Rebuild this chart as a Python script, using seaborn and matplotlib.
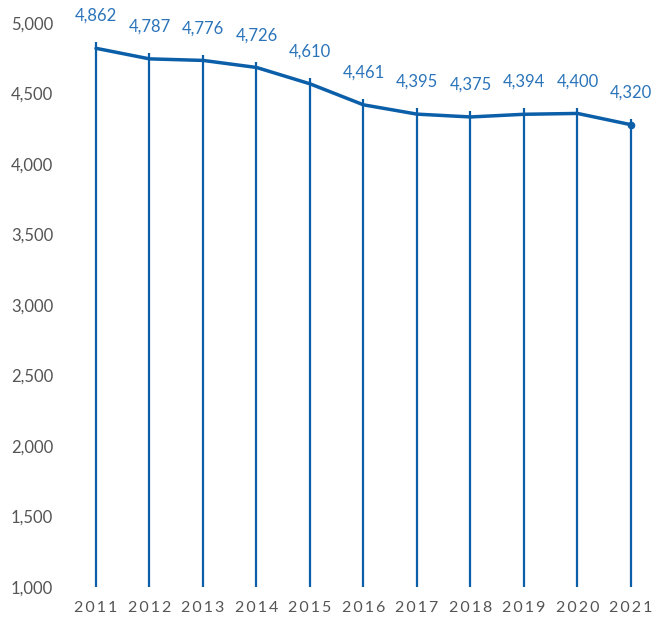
import matplotlib
matplotlib.use("Agg")
import matplotlib.pyplot as plt
import matplotlib.transforms as mtransforms
import seaborn as sns
import pandas as pd

years = [2011, 2012, 2013, 2014, 2015, 2016, 2017, 2018, 2019, 2020, 2021]
values = [4862, 4787, 4776, 4726, 4610, 4461, 4395, 4375, 4394, 4400, 4320]
y_ticks = [1000, 1500, 2000, 2500, 3000, 3500, 4000, 4500, 5000]

sns.set_theme(style="white")
plt.rcParams['font.family'] = ['Lato', 'DejaVu Sans']

line_color = "#0b5ea8"
label_color = "#2b74b9"
tick_color = "#555555"

W, H = 654, 617
fig = plt.figure(figsize=(W / 100, H / 100), dpi=100)
ax_left, ax_right = 70, 650
ax = fig.add_axes([ax_left / W, (H - 587) / H, (ax_right - ax_left) / W, (587 - 23) / H])

df = pd.DataFrame({"year": years, "value": values})

# vertical drop lines
ax.vlines(df["year"], 1000, df["value"], color=line_color, linewidth=1.6, zorder=2)

# main line, drawn slightly below the drop-line tops as in the reference
off = mtransforms.offset_copy(ax.transData, fig=fig, x=0, y=-4.2, units='points')
sns.lineplot(data=df, x="year", y="value", ax=ax, color=line_color, linewidth=2.5,
             transform=off, zorder=3, clip_on=False)
ax.plot([years[-1]], [values[-1]], 'o', color=line_color, markersize=4.5,
        transform=off, clip_on=False, zorder=4)

for x, v in zip(years, values):
    ax.annotate(f"{v:,}", (x, v), xytext=(0, 19), textcoords="offset points",
                ha="center", va="center", fontsize=12, color=label_color,
                annotation_clip=False)

px = 53.5
ax.set_xlim(2011 - (96 - ax_left) / px, 2021 + (ax_right - 631) / px)
ax.set_ylim(1000, 5000)
ax.set_yticks(y_ticks)
ax.set_yticklabels([f"{t:,}" for t in y_ticks])
ax.set_xticks(years)
ax.set_xticklabels(["\u2009".join(str(y)) for y in years])
ax.tick_params(axis="y", length=0, pad=12, labelsize=12, labelcolor=tick_color)
ax.tick_params(axis="x", length=0, pad=10, labelsize=11.5, labelcolor=tick_color)
ax.set_xlabel("")
ax.set_ylabel("")
for s in ax.spines.values():
    s.set_visible(False)
ax.grid(False)
ax.set_facecolor("none")

fig.savefig("out.png", dpi=100, facecolor="white")
